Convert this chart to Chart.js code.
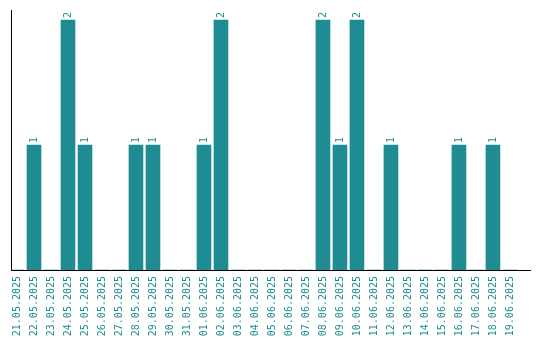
<!DOCTYPE html>
<html>
<head>
<meta charset="utf-8">
<script src="https://cdn.jsdelivr.net/npm/chart.js@4/dist/chart.umd.min.js"></script>
<style>
  html, body { margin: 0; padding: 0; background: #fff; }
  #wrap { width: 540px; height: 340px; }
</style>
</head>
<body>
<div id="wrap"><canvas id="plot"></canvas></div>
<script>
// datos
let fechas = [
  '21.05.2025','22.05.2025','23.05.2025','24.05.2025','25.05.2025','26.05.2025',
  '27.05.2025','28.05.2025','29.05.2025','30.05.2025','31.05.2025','01.06.2025',
  '02.06.2025','03.06.2025','04.06.2025','05.06.2025','06.06.2025','07.06.2025',
  '08.06.2025','09.06.2025','10.06.2025','11.06.2025','12.06.2025','13.06.2025',
  '14.06.2025','15.06.2025','16.06.2025','17.06.2025','18.06.2025','19.06.2025'
];
let cantidades = [
  0, 1, 0, 2, 1, 0,
  0, 1, 1, 0, 0, 1,
  2, 0, 0, 0, 0, 0,
  2, 1, 2, 0, 1, 0,
  0, 0, 1, 0, 1, 0
];

let color = 'rgb(30,140,146)';
let fuente = { family: 'DejaVu Sans Mono', size: 10 };

// etiquetas de valor sobre cada barra, giradas
let etiquetasValor = {
  id: 'etiquetasValor',
  afterDatasetsDraw(chart) {
    let ctx = chart.ctx;
    let meta = chart.getDatasetMeta(0);
    meta.data.forEach((bar, i) => {
      let v = cantidades[i];
      if (!v) return;
      ctx.save();
      ctx.translate(bar.x, bar.y - 2);
      ctx.rotate(-Math.PI / 2);
      ctx.font = fuente.size + 'px ' + fuente.family;
      ctx.fillStyle = color;
      ctx.textAlign = 'left';
      ctx.textBaseline = 'middle';
      ctx.fillText(String(v), 0, 0);
      ctx.restore();
    });
  }
};

let config = {
  type: 'bar',
  data: {
    datasets: [{
      data: cantidades.map((v, i) => ({ x: i, y: v })),
      backgroundColor: color,
      borderWidth: 0,
      barThickness: 14
    }]
  },
  options: {
    responsive: true,
    maintainAspectRatio: false,
    animation: false,
    layout: { padding: { left: 11, top: 10, right: 10, bottom: 0 } },
    plugins: { legend: { display: false }, tooltip: { enabled: false } },
    scales: {
      x: {
        type: 'linear',
        offset: false,
        min: -0.353,
        max: 30.18,
        grid: { display: false, drawTicks: false, offset: false },
        border: { display: true, color: '#000', width: 1 },
        afterBuildTicks: axis => { axis.ticks = fechas.map((_, i) => ({ value: i })); },
        afterFit: axis => { axis.height = 70; axis.paddingLeft = 0; axis.paddingRight = 0; },
        ticks: {
          autoSkip: false,
          minRotation: 90,
          maxRotation: 90,
          padding: 6,
          color: color,
          font: fuente,
          callback: v => fechas[v]
        }
      },
      y: {
        min: 0,
        max: 2.08,
        grid: { display: false, drawTicks: false },
        border: { display: true, color: '#000', width: 1 },
        ticks: { display: false },
        afterFit: axis => { axis.width = 0; }
      }
    }
  },
  plugins: [etiquetasValor]
};

let chart = new Chart(document.getElementById('plot'), config);
</script>
</body>
</html>
